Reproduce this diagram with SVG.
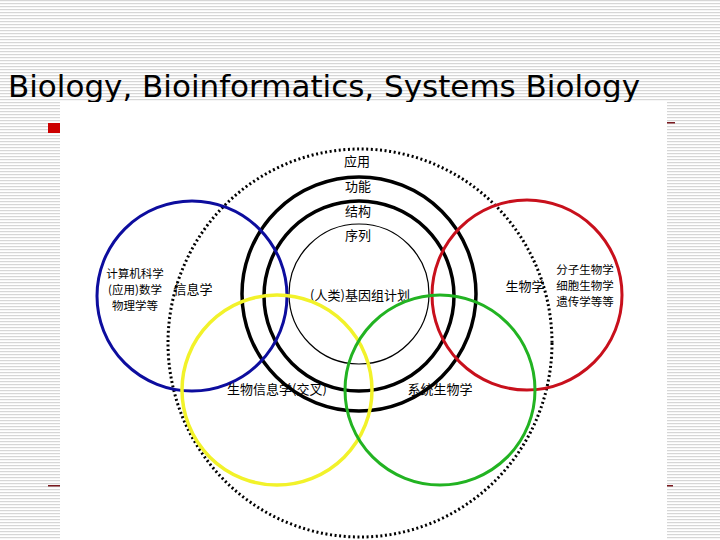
<svg xmlns="http://www.w3.org/2000/svg" width="720" height="540" viewBox="0 0 720 540">
<defs>
<pattern id="stripes" x="0" y="0" width="720" height="3" patternUnits="userSpaceOnUse">
<rect x="0" y="0" width="720" height="3" fill="#ffffff"/>
<rect x="0" y="0" width="720" height="1.2" fill="#d6d6d6"/>
</pattern>
<style>
.c{fill:none}
.dot{stroke:#000;stroke-width:3;stroke-dasharray:2 2.6}
.blk{stroke:#000;stroke-width:3.5}
.thin{stroke:#000;stroke-width:1.2}
.blue{stroke:#0d0d9e;stroke-width:3}
.red{stroke:#c8101c;stroke-width:3}
.yel{stroke:#f2f22a;stroke-width:3.5}
.grn{stroke:#22b322;stroke-width:3}
.t{font-family:"Noto Sans CJK SC","Noto Sans CJK JP",sans-serif;font-size:13px;fill:#000}
.s{font-size:11.5px}
.m{text-anchor:middle}
</style>
</defs>
<rect x="0" y="0" width="720" height="540" fill="url(#stripes)"/>
<text x="8" y="97" font-family="DejaVu Sans, sans-serif" font-size="30" textLength="632" lengthAdjust="spacingAndGlyphs" fill="#000">Biology, Bioinformatics, Systems Biology</text>
<rect x="60" y="102" width="607" height="438" fill="#ffffff"/>
<rect x="48" y="123" width="12" height="10" fill="#cc0000"/>
<rect x="667" y="122" width="8" height="1.5" fill="#7a1a20"/>
<rect x="48" y="485" width="12" height="1.5" fill="#7a1a20"/>
<rect x="667" y="485" width="6" height="1.5" fill="#7a1a20"/>

<g id="application">
<ellipse class="c dot" cx="360" cy="343" rx="192" ry="194"/>
<text class="t m" x="357" y="166">应用</text>
</g>
<g id="function">
<circle class="c blk" cx="359" cy="294" r="117"/>
<text class="t m" x="358" y="191">功能</text>
</g>
<g id="structure">
<circle class="c blk" cx="359" cy="296" r="95"/>
<text class="t m" x="358" y="216">结构</text>
</g>
<g id="sequence">
<circle class="c thin" cx="359" cy="294" r="70"/>
<text class="t m" x="358" y="240">序列</text>
<text class="t m" x="360" y="300">(人类)基因组计划</text>
</g>
<g id="informatics">
<circle class="c blue" cx="192" cy="296" r="95"/>
<text class="t s m" x="135" y="278">计算机科学</text>
<text class="t s m" x="135" y="294">(应用)数学</text>
<text class="t s m" x="135" y="310">物理学等</text>
<text class="t m" x="193" y="294">信息学</text>
</g>
<g id="biology">
<circle class="c red" cx="527" cy="295" r="95"/>
<text class="t m" x="525" y="291">生物学</text>
<text class="t s m" x="585" y="274">分子生物学</text>
<text class="t s m" x="585" y="290">细胞生物学</text>
<text class="t s m" x="585" y="306">遗传学等等</text>
</g>
<g id="bioinformatics">
<circle class="c yel" cx="277" cy="390" r="95"/>
<text class="t m" x="277" y="394">生物信息学(交叉)</text>
</g>
<g id="systems-biology">
<circle class="c grn" cx="440" cy="390" r="95"/>
<text class="t m" x="440" y="394">系统生物学</text>
</g>
<g id="connectors"></g>
</svg>
